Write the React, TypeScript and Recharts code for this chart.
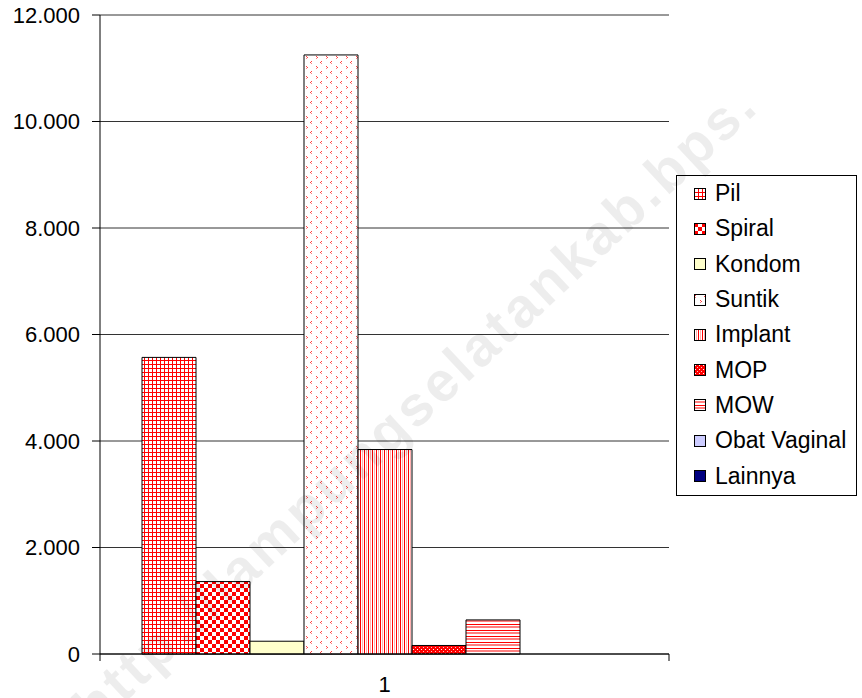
import { Bar, BarChart, CartesianGrid, XAxis, YAxis } from "recharts";

const methods = ["Pil", "Spiral", "Kondom", "Suntik", "Implant", "MOP", "MOW", "Obat Vaginal", "Lainnya"];
const values = [5570, 1360, 240, 11250, 3840, 160, 640, 0, 0];
const yTicks = [0, 2000, 4000, 6000, 8000, 10000, 12000];

const fills: Record<string, string> = {
  Pil: "url(#pPil)",
  Spiral: "url(#pSpiral)",
  Kondom: "#FFFFCC",
  Suntik: "url(#pSuntik)",
  Implant: "url(#pImplant)",
  MOP: "url(#pMop)",
  MOW: "url(#pMow)",
  "Obat Vaginal": "#CCCCFF",
  Lainnya: "#000080",
};

const row: Record<string, string | number> = { name: "1" };
methods.forEach((m, i) => (row[m] = values[i]));
const data = [row];

const font = "Arial, 'Liberation Sans', sans-serif";

function Patterns() {
  return (
    <defs>
      <pattern id="pPil" width="4" height="4" patternUnits="userSpaceOnUse">
        <rect width="4" height="4" fill="#fff" />
        <rect width="1" height="4" fill="#ff0000" />
        <rect width="4" height="1" fill="#ff0000" />
      </pattern>
      <pattern id="pSpiral" width="8" height="8" patternUnits="userSpaceOnUse">
        <rect width="8" height="8" fill="#fff" />
        <rect width="4" height="4" fill="#ff0000" />
        <rect x="4" y="4" width="4" height="4" fill="#ff0000" />
      </pattern>
      <pattern id="pSuntik" width="10" height="10" patternUnits="userSpaceOnUse">
        <rect width="10" height="10" fill="#fff" />
        <rect x="1" y="1" width="1" height="1" fill="#ff4040" />
        <rect x="0" y="2" width="1" height="1" fill="#ff4040" />
        <rect x="1" y="3" width="1" height="1" fill="#ff8080" />
        <rect x="6" y="6" width="1" height="1" fill="#ff4040" />
        <rect x="7" y="7" width="1" height="1" fill="#ff4040" />
        <rect x="6" y="8" width="1" height="1" fill="#ff8080" />
      </pattern>
      <pattern id="pImplant" width="4" height="4" patternUnits="userSpaceOnUse">
        <rect width="4" height="4" fill="#fff" />
        <rect width="1" height="4" fill="#ff0000" />
        <rect x="2" width="1" height="4" fill="#ffb0b0" />
      </pattern>
      <pattern id="pMop" width="4" height="4" patternUnits="userSpaceOnUse">
        <rect width="4" height="4" fill="#ff0000" />
        <rect x="1" y="1" width="1" height="1" fill="#fff" />
        <rect x="3" y="3" width="1" height="1" fill="#ffc0c0" />
      </pattern>
      <pattern id="pMow" width="6" height="6" patternUnits="userSpaceOnUse">
        <rect width="6" height="6" fill="#fff" />
        <rect width="6" height="1" fill="#ff0000" />
        <rect y="2" width="6" height="2" fill="#ff8080" />
      </pattern>
    </defs>
  );
}

function XTick(props: any) {
  const { x, payload } = props;
  return (
    <g>
      <line x1={x - 284.5} y1={654} x2={x - 284.5} y2={661} stroke="#000" />
      <line x1={x + 284.5} y1={654} x2={x + 284.5} y2={661} stroke="#000" />
      <text x={x} y={692} textAnchor="middle" fontSize={22} fontFamily={font} fill="#000">
        {payload.value}
      </text>
    </g>
  );
}

function LegendBox() {
  return (
    <div
      style={{
        position: "absolute",
        left: 676,
        top: 175,
        width: 179,
        height: 318,
        border: "1px solid #000",
        background: "#fff",
        fontFamily: font,
        fontSize: 23,
        paddingBottom: 1,
      }}
    >
      {methods.map((m) => (
        <div key={m} style={{ height: 35.3, display: "flex", alignItems: "center", color: "#000" }}>
          <svg width={12} height={12} style={{ marginLeft: 17, marginRight: 9, flex: "none" }}>
            <rect x={0.5} y={0.5} width={11} height={11} fill={fills[m]} stroke="#000" />
          </svg>
          <span>{m}</span>
        </div>
      ))}
    </div>
  );
}

export default function App() {
  return (
    <div style={{ position: "fixed", left: 0, top: 0, width: 862, height: 698, background: "#fff", overflow: "hidden" }}>
      <BarChart
        width={862}
        height={698}
        data={data}
        margin={{ top: 15, right: 193, bottom: 14, left: 0 }}
        barGap={0}
      >
        <Patterns />
        <CartesianGrid horizontal vertical={false} stroke="#333" />
        <XAxis
          dataKey="name"
          height={30}
          axisLine={{ stroke: "#000" }}
          tickLine={false}
          tick={<XTick />}
          interval={0}
        />
        <YAxis
          width={100}
          domain={[0, 12000]}
          ticks={yTicks}
          interval={0}
          axisLine={{ stroke: "#000" }}
          tickLine={{ stroke: "#000" }}
          tickSize={8}
          tickMargin={12}
          tick={{ fontSize: 22, fontFamily: font, fill: "#000" }}
          tickFormatter={(v: number) => v.toLocaleString("de-DE")}
        />
        <YAxis yAxisId="r" orientation="right" width={0} tick={false} tickLine={false} axisLine={{ stroke: "#808080" }} />
        {methods.map((m) => (
          <Bar
            key={m}
            dataKey={m}
            fill={fills[m]}
            stroke="#000"
            strokeWidth={1}
            barSize={54}
            isAnimationActive={false}
          />
        ))}
      </BarChart>
      <LegendBox />
      <div
        style={{
          position: "absolute",
          left: 415,
          top: 405,
          transform: "translate(-50%, -50%) rotate(-43deg)",
          whiteSpace: "nowrap",
          fontFamily: font,
          fontWeight: "bold",
          fontSize: 56,
          letterSpacing: 3.5,
          color: "rgba(0,0,0,0.07)",
          pointerEvents: "none",
        }}
      >
        http://lampungselatankab.bps.
      </div>
    </div>
  );
}
